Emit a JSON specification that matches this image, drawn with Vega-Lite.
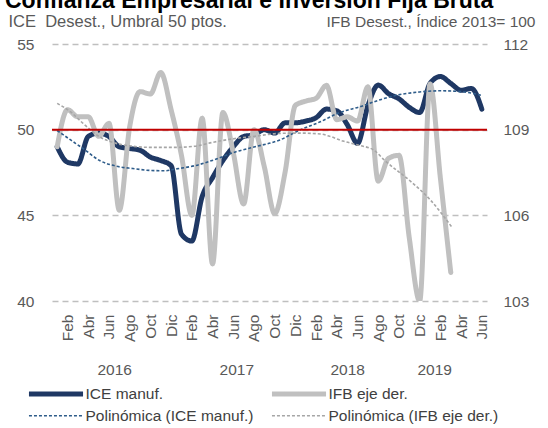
{
  "$schema": "https://vega.github.io/schema/vega-lite/v6.json",
  "width": 435,
  "height": 257,
  "autosize": {"type": "none"},
  "padding": {"left": 52, "top": 44, "right": 61, "bottom": 127},
  "background": "white",
  "config": {
    "view": {"stroke": null},
    "font": "Liberation Sans",
    "axis": {"labelFont": "Liberation Sans", "titleFont": "Liberation Sans"},
    "legend": {"labelFont": "Liberation Sans"}
  },
  "title": {
    "text": "Confianza Empresarial e Inversión Fija Bruta",
    "fontSize": 23,
    "fontWeight": "bold",
    "color": "#000000",
    "anchor": "start",
    "frame": "group",
    "dx": -47,
    "offset": 0
  },
  "datasets": {
    "ice": [
      {"m": 0, "s": "ICE manuf.", "v": 49.0},
      {"m": 1, "s": "ICE manuf.", "v": 48.1},
      {"m": 2, "s": "ICE manuf.", "v": 48.0},
      {"m": 3, "s": "ICE manuf.", "v": 49.6},
      {"m": 4, "s": "ICE manuf.", "v": 49.8},
      {"m": 5, "s": "ICE manuf.", "v": 49.6},
      {"m": 6, "s": "ICE manuf.", "v": 49.0},
      {"m": 7, "s": "ICE manuf.", "v": 48.9},
      {"m": 8, "s": "ICE manuf.", "v": 48.8},
      {"m": 9, "s": "ICE manuf.", "v": 48.4},
      {"m": 10, "s": "ICE manuf.", "v": 48.2},
      {"m": 11, "s": "ICE manuf.", "v": 47.9},
      {"m": 12, "s": "ICE manuf.", "v": 43.9},
      {"m": 13, "s": "ICE manuf.", "v": 43.5},
      {"m": 14, "s": "ICE manuf.", "v": 46.1},
      {"m": 15, "s": "ICE manuf.", "v": 47.2},
      {"m": 16, "s": "ICE manuf.", "v": 48.2},
      {"m": 17, "s": "ICE manuf.", "v": 49.0},
      {"m": 18, "s": "ICE manuf.", "v": 49.6},
      {"m": 19, "s": "ICE manuf.", "v": 49.7},
      {"m": 20, "s": "ICE manuf.", "v": 50.0},
      {"m": 21, "s": "ICE manuf.", "v": 49.8},
      {"m": 22, "s": "ICE manuf.", "v": 50.4},
      {"m": 23, "s": "ICE manuf.", "v": 50.4},
      {"m": 24, "s": "ICE manuf.", "v": 50.5},
      {"m": 25, "s": "ICE manuf.", "v": 50.7},
      {"m": 26, "s": "ICE manuf.", "v": 51.2},
      {"m": 27, "s": "ICE manuf.", "v": 51.1},
      {"m": 28, "s": "ICE manuf.", "v": 50.3},
      {"m": 29, "s": "ICE manuf.", "v": 49.2},
      {"m": 30, "s": "ICE manuf.", "v": 51.4},
      {"m": 31, "s": "ICE manuf.", "v": 52.6},
      {"m": 32, "s": "ICE manuf.", "v": 52.1},
      {"m": 33, "s": "ICE manuf.", "v": 51.8},
      {"m": 34, "s": "ICE manuf.", "v": 51.3},
      {"m": 35, "s": "ICE manuf.", "v": 51.0},
      {"m": 36, "s": "ICE manuf.", "v": 52.7},
      {"m": 37, "s": "ICE manuf.", "v": 53.1},
      {"m": 38, "s": "ICE manuf.", "v": 52.7},
      {"m": 39, "s": "ICE manuf.", "v": 52.3},
      {"m": 40, "s": "ICE manuf.", "v": 52.4},
      {"m": 41, "s": "ICE manuf.", "v": 51.2}
    ],
    "iceTrend": [
      {"m": 0, "s": "Polinómica (ICE manuf.)", "v": 49.95},
      {"m": 1.3, "s": "Polinómica (ICE manuf.)", "v": 49.4},
      {"m": 2.5, "s": "Polinómica (ICE manuf.)", "v": 48.9},
      {"m": 4.1, "s": "Polinómica (ICE manuf.)", "v": 48.2},
      {"m": 5.7, "s": "Polinómica (ICE manuf.)", "v": 47.87},
      {"m": 7.3, "s": "Polinómica (ICE manuf.)", "v": 47.73},
      {"m": 9, "s": "Polinómica (ICE manuf.)", "v": 47.62},
      {"m": 10.4, "s": "Polinómica (ICE manuf.)", "v": 47.6},
      {"m": 11.4, "s": "Polinómica (ICE manuf.)", "v": 47.7},
      {"m": 13.3, "s": "Polinómica (ICE manuf.)", "v": 47.9},
      {"m": 15.2, "s": "Polinómica (ICE manuf.)", "v": 48.25},
      {"m": 17.2, "s": "Polinómica (ICE manuf.)", "v": 48.7},
      {"m": 19.1, "s": "Polinómica (ICE manuf.)", "v": 49.0},
      {"m": 21.5, "s": "Polinómica (ICE manuf.)", "v": 49.4},
      {"m": 23.4, "s": "Polinómica (ICE manuf.)", "v": 49.97},
      {"m": 25.4, "s": "Polinómica (ICE manuf.)", "v": 50.46},
      {"m": 27.3, "s": "Polinómica (ICE manuf.)", "v": 51.0},
      {"m": 29.3, "s": "Polinómica (ICE manuf.)", "v": 51.35},
      {"m": 31.2, "s": "Polinómica (ICE manuf.)", "v": 51.75},
      {"m": 33.1, "s": "Polinómica (ICE manuf.)", "v": 52.05},
      {"m": 35, "s": "Polinómica (ICE manuf.)", "v": 52.2},
      {"m": 37, "s": "Polinómica (ICE manuf.)", "v": 52.27},
      {"m": 39, "s": "Polinómica (ICE manuf.)", "v": 52.22},
      {"m": 41, "s": "Polinómica (ICE manuf.)", "v": 52.0}
    ],
    "ifb": [
      {"m": 0, "s": "IFB eje der.", "v": 108.4},
      {"m": 1, "s": "IFB eje der.", "v": 109.7},
      {"m": 2, "s": "IFB eje der.", "v": 109.45},
      {"m": 3, "s": "IFB eje der.", "v": 109.45},
      {"m": 4, "s": "IFB eje der.", "v": 108.77},
      {"m": 5, "s": "IFB eje der.", "v": 109.22},
      {"m": 6, "s": "IFB eje der.", "v": 106.18},
      {"m": 7, "s": "IFB eje der.", "v": 109.1},
      {"m": 8, "s": "IFB eje der.", "v": 110.33},
      {"m": 9, "s": "IFB eje der.", "v": 110.25},
      {"m": 10, "s": "IFB eje der.", "v": 111.0},
      {"m": 11, "s": "IFB eje der.", "v": 109.7},
      {"m": 12, "s": "IFB eje der.", "v": 108.1},
      {"m": 13, "s": "IFB eje der.", "v": 106.0},
      {"m": 14, "s": "IFB eje der.", "v": 109.4},
      {"m": 15, "s": "IFB eje der.", "v": 104.3},
      {"m": 16, "s": "IFB eje der.", "v": 109.6},
      {"m": 17, "s": "IFB eje der.", "v": 108.2},
      {"m": 18, "s": "IFB eje der.", "v": 106.4},
      {"m": 19, "s": "IFB eje der.", "v": 109.0},
      {"m": 20, "s": "IFB eje der.", "v": 107.7},
      {"m": 21, "s": "IFB eje der.", "v": 106.06},
      {"m": 22, "s": "IFB eje der.", "v": 107.5},
      {"m": 23, "s": "IFB eje der.", "v": 109.85},
      {"m": 24, "s": "IFB eje der.", "v": 110.0},
      {"m": 25, "s": "IFB eje der.", "v": 110.1},
      {"m": 26, "s": "IFB eje der.", "v": 110.55},
      {"m": 27, "s": "IFB eje der.", "v": 109.35},
      {"m": 28, "s": "IFB eje der.", "v": 109.45},
      {"m": 29, "s": "IFB eje der.", "v": 109.3},
      {"m": 30, "s": "IFB eje der.", "v": 110.5},
      {"m": 31, "s": "IFB eje der.", "v": 107.2},
      {"m": 32, "s": "IFB eje der.", "v": 108.0},
      {"m": 33, "s": "IFB eje der.", "v": 108.1},
      {"m": 34, "s": "IFB eje der.", "v": 105.2},
      {"m": 35, "s": "IFB eje der.", "v": 103.0},
      {"m": 36, "s": "IFB eje der.", "v": 110.6},
      {"m": 37, "s": "IFB eje der.", "v": 107.3},
      {"m": 38, "s": "IFB eje der.", "v": 104.0}
    ],
    "ifbTrend": [
      {"m": 0, "s": "Polinómica (IFB eje der.)", "v": 109.92},
      {"m": 1.3, "s": "Polinómica (IFB eje der.)", "v": 109.62},
      {"m": 2.5, "s": "Polinómica (IFB eje der.)", "v": 109.22},
      {"m": 4.1, "s": "Polinómica (IFB eje der.)", "v": 108.75},
      {"m": 5.7, "s": "Polinómica (IFB eje der.)", "v": 108.52},
      {"m": 7.3, "s": "Polinómica (IFB eje der.)", "v": 108.42},
      {"m": 9, "s": "Polinómica (IFB eje der.)", "v": 108.38},
      {"m": 11.4, "s": "Polinómica (IFB eje der.)", "v": 108.38},
      {"m": 13.3, "s": "Polinómica (IFB eje der.)", "v": 108.42},
      {"m": 15.2, "s": "Polinómica (IFB eje der.)", "v": 108.57},
      {"m": 17.2, "s": "Polinómica (IFB eje der.)", "v": 108.69},
      {"m": 19.1, "s": "Polinómica (IFB eje der.)", "v": 108.77},
      {"m": 21.5, "s": "Polinómica (IFB eje der.)", "v": 108.87},
      {"m": 23.4, "s": "Polinómica (IFB eje der.)", "v": 108.88},
      {"m": 25.4, "s": "Polinómica (IFB eje der.)", "v": 108.85},
      {"m": 26.3, "s": "Polinómica (IFB eje der.)", "v": 108.77},
      {"m": 27.6, "s": "Polinómica (IFB eje der.)", "v": 108.6},
      {"m": 29.2, "s": "Polinómica (IFB eje der.)", "v": 108.45},
      {"m": 30.6, "s": "Polinómica (IFB eje der.)", "v": 108.28},
      {"m": 31.6, "s": "Polinómica (IFB eje der.)", "v": 107.93},
      {"m": 34.1, "s": "Polinómica (IFB eje der.)", "v": 107.2},
      {"m": 36, "s": "Polinómica (IFB eje der.)", "v": 106.55},
      {"m": 38.1, "s": "Polinómica (IFB eje der.)", "v": 105.59}
    ],
    "years": [
      {"m": 5.5, "year": "2016"},
      {"m": 17.3, "year": "2017"},
      {"m": 28, "year": "2018"},
      {"m": 36.4, "year": "2019"}
    ]
  },
  "layer": [
    {
      "data": {"name": "ice"},
      "mark": {"type": "line", "interpolate": "monotone", "strokeCap": "round"},
      "encoding": {
        "x": {
          "field": "m", "type": "quantitative",
          "scale": {"domain": [-0.5, 41.5], "nice": false, "zero": false},
          "axis": {
            "orient": "bottom",
            "values": [1, 3, 5, 7, 9, 11, 13, 15, 17, 19, 21, 23, 25, 27, 29, 31, 33, 35, 37, 39, 41],
            "labelExpr": "['Ene','Feb','Mar','Abr','May','Jun','Jul','Ago','Sep','Oct','Nov','Dic'][datum.value % 12]",
            "labelAngle": 270,
            "labelFontSize": 15.5,
            "labelColor": "#595959",
            "labelPadding": 13,
            "labelOverlap": false,
            "labelBound": false,
            "labelFlush": false,
            "domain": false, "ticks": false, "grid": false, "title": null
          }
        },
        "y": {
          "field": "v", "type": "quantitative",
          "scale": {"domain": [40, 55], "nice": false, "zero": false},
          "axis": {
            "orient": "left",
            "values": [40, 45, 50, 55],
            "grid": true, "gridDash": [6, 4], "gridColor": "#BFBFBF", "gridWidth": 1.3,
            "domain": false, "ticks": false,
            "labelFontSize": 15.5, "labelColor": "#595959", "labelPadding": 18,
            "title": "ICE\u00a0 Desest., Umbral 50 ptos.",
            "titleAngle": 0, "titleX": -44, "titleY": -18, "titleAlign": "left",
            "titleBaseline": "alphabetic", "titleFontSize": 16.5, "titleFontWeight": "normal",
            "titleColor": "#595959"
          }
        },
        "color": {
          "field": "s", "type": "nominal",
          "scale": {
            "domain": ["ICE manuf.", "Polinómica (ICE manuf.)", "IFB eje der.", "Polinómica (IFB eje der.)"],
            "range": ["#1F3864", "#2E5C8A", "#C0C0C0", "#A6A6A6"]
          },
          "legend": {
            "orient": "none", "legendX": -4, "legendY": 342, "columns": 2, "title": null,
            "symbolType": "M-5,0H5", "symbolSize": 117,
            "labelFontSize": 15.5, "labelColor": "#404040", "labelLimit": 300,
            "columnPadding": 7, "rowPadding": 4, "labelOffset": 21.5
          }
        },
        "strokeDash": {
          "field": "s", "type": "nominal",
          "scale": {
            "domain": ["ICE manuf.", "Polinómica (ICE manuf.)", "IFB eje der.", "Polinómica (IFB eje der.)"],
            "range": [[1, 0], [3, 2], [1, 0], [3, 2]]
          }
        },
        "strokeWidth": {
          "field": "s", "type": "nominal",
          "scale": {
            "type": "ordinal",
            "domain": ["ICE manuf.", "Polinómica (ICE manuf.)", "IFB eje der.", "Polinómica (IFB eje der.)"],
            "range": [5, 1.6, 5, 1.6]
          }
        }
      }
    },
    {
      "data": {"name": "ifb"},
      "mark": {"type": "line", "interpolate": "monotone", "strokeCap": "round", "clip": true},
      "encoding": {
        "x": {"field": "m", "type": "quantitative", "scale": {"domain": [-0.5, 41.5], "nice": false, "zero": false}, "axis": null},
        "y": {
          "field": "v", "type": "quantitative",
          "scale": {"domain": [103, 112], "nice": false, "zero": false},
          "axis": {
            "orient": "right",
            "values": [103, 106, 109, 112],
            "grid": false, "domain": false, "ticks": false,
            "labelFontSize": 15.5, "labelColor": "#595959", "labelPadding": 16,
            "title": "IFB Desest., Índice 2013= 100",
            "titleAngle": 0, "titleX": 48, "titleY": -18, "titleAlign": "right",
            "titleBaseline": "alphabetic", "titleFontSize": 15.5, "titleFontWeight": "normal",
            "titleColor": "#595959"
          }
        },
        "color": {
          "field": "s", "type": "nominal",
          "scale": {
            "domain": ["ICE manuf.", "Polinómica (ICE manuf.)", "IFB eje der.", "Polinómica (IFB eje der.)"],
            "range": ["#1F3864", "#2E5C8A", "#C0C0C0", "#A6A6A6"]
          }
        },
        "strokeDash": {
          "field": "s", "type": "nominal",
          "scale": {
            "domain": ["ICE manuf.", "Polinómica (ICE manuf.)", "IFB eje der.", "Polinómica (IFB eje der.)"],
            "range": [[1, 0], [3, 2], [1, 0], [3, 2]]
          }
        },
        "strokeWidth": {
          "field": "s", "type": "nominal",
          "scale": {
            "type": "ordinal",
            "domain": ["ICE manuf.", "Polinómica (ICE manuf.)", "IFB eje der.", "Polinómica (IFB eje der.)"],
            "range": [5, 1.6, 5, 1.6]
          }
        }
      }
    },
    {
      "data": {"name": "iceTrend"},
      "mark": {"type": "line", "interpolate": "monotone"},
      "encoding": {
        "x": {"field": "m", "type": "quantitative", "scale": {"domain": [-0.5, 41.5], "nice": false, "zero": false}, "axis": null},
        "y": {"field": "v", "type": "quantitative", "scale": {"domain": [40, 55], "nice": false, "zero": false}, "axis": null},
        "color": {
          "field": "s", "type": "nominal",
          "scale": {
            "domain": ["ICE manuf.", "Polinómica (ICE manuf.)", "IFB eje der.", "Polinómica (IFB eje der.)"],
            "range": ["#1F3864", "#2E5C8A", "#C0C0C0", "#A6A6A6"]
          }
        },
        "strokeDash": {
          "field": "s", "type": "nominal",
          "scale": {
            "domain": ["ICE manuf.", "Polinómica (ICE manuf.)", "IFB eje der.", "Polinómica (IFB eje der.)"],
            "range": [[1, 0], [3, 2], [1, 0], [3, 2]]
          }
        },
        "strokeWidth": {
          "field": "s", "type": "nominal",
          "scale": {
            "type": "ordinal",
            "domain": ["ICE manuf.", "Polinómica (ICE manuf.)", "IFB eje der.", "Polinómica (IFB eje der.)"],
            "range": [5, 1.6, 5, 1.6]
          }
        }
      }
    },
    {
      "data": {"name": "ifbTrend"},
      "mark": {"type": "line", "interpolate": "monotone"},
      "encoding": {
        "x": {"field": "m", "type": "quantitative", "scale": {"domain": [-0.5, 41.5], "nice": false, "zero": false}, "axis": null},
        "y": {"field": "v", "type": "quantitative", "scale": {"domain": [103, 112], "nice": false, "zero": false}, "axis": null},
        "color": {
          "field": "s", "type": "nominal",
          "scale": {
            "domain": ["ICE manuf.", "Polinómica (ICE manuf.)", "IFB eje der.", "Polinómica (IFB eje der.)"],
            "range": ["#1F3864", "#2E5C8A", "#C0C0C0", "#A6A6A6"]
          }
        },
        "strokeDash": {
          "field": "s", "type": "nominal",
          "scale": {
            "domain": ["ICE manuf.", "Polinómica (ICE manuf.)", "IFB eje der.", "Polinómica (IFB eje der.)"],
            "range": [[1, 0], [3, 2], [1, 0], [3, 2]]
          }
        },
        "strokeWidth": {
          "field": "s", "type": "nominal",
          "scale": {
            "type": "ordinal",
            "domain": ["ICE manuf.", "Polinómica (ICE manuf.)", "IFB eje der.", "Polinómica (IFB eje der.)"],
            "range": [5, 1.6, 5, 1.6]
          }
        }
      }
    },
    {
      "data": {"values": [{"umbral": 50}]},
      "mark": {"type": "rule", "color": "#C00000", "strokeWidth": 2},
      "encoding": {
        "y": {"field": "umbral", "type": "quantitative", "scale": {"domain": [40, 55], "nice": false, "zero": false}, "axis": null}
      }
    },
    {
      "data": {"name": "years"},
      "mark": {"type": "point", "opacity": 0},
      "encoding": {
        "x": {
          "field": "m", "type": "quantitative",
          "scale": {"domain": [-0.5, 41.5], "nice": false, "zero": false},
          "axis": {
            "orient": "bottom",
            "values": [5.5, 17.3, 28, 36.4],
            "labelExpr": "datum.value < 12 ? '2016' : datum.value < 24 ? '2017' : datum.value < 33 ? '2018' : '2019'",
            "labelAngle": 0,
            "labelFontSize": 15.5,
            "labelColor": "#595959",
            "labelPadding": 61,
            "labelOverlap": false,
            "labelBound": false,
            "labelFlush": false,
            "domain": false, "ticks": false, "grid": false, "title": null
          }
        }
      }
    }
  ],
  "resolve": {"scale": {"y": "independent"}, "axis": {"x": "independent"}}
}
